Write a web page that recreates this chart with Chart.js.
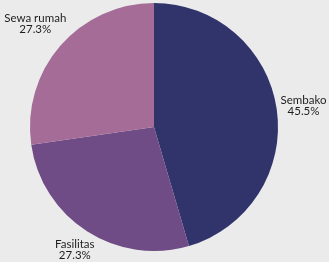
<!DOCTYPE html>
<html>
<head>
<meta charset="utf-8">
<script src="https://cdn.jsdelivr.net/npm/chart.js@4"></script>
<style>
html,body{margin:0;padding:0;background:#ebebeb;}
#wrap{width:329px;height:262px;position:relative;}
</style>
</head>
<body>
<div id="wrap"><canvas id="c" width="329" height="262"></canvas></div>
<script>
const categories = ["Sembako", "Fasilitas", "Sewa rumah"];
const values = [5, 3, 3];
const colors = ["#30346a", "#6f4c86", "#a46c96"];

const labelPlugin = {
  id: 'outLabels',
  afterDatasetsDraw(chart) {
    const ctx = chart.ctx;
    const meta = chart.getDatasetMeta(0);
    const total = values.reduce((a, b) => a + b, 0);
    const lineH = 11;
    const gap = 3;
    ctx.save();
    ctx.font = '11.5px Lato, "DejaVu Sans", sans-serif';
    ctx.fillStyle = '#1e1e1e';
    ctx.textAlign = 'center';
    ctx.textBaseline = 'middle';
    meta.data.forEach((arc, i) => {
      const mid = (arc.startAngle + arc.endAngle) / 2;
      const ux = Math.cos(mid), uy = Math.sin(mid);
      const pct = (values[i] / total * 100).toFixed(1) + '%';
      const hw = Math.max(ctx.measureText(categories[i]).width, ctx.measureText(pct).width) / 2;
      const hh = lineH;
      const target = arc.outerRadius + gap;
      let lo = 0, hi = arc.outerRadius * 3;
      for (let k = 0; k < 60; k++) {
        const d = (lo + hi) / 2;
        const cx = d * ux - hw * Math.sign(ux);
        const cy = d * uy - hh * Math.sign(uy);
        const nx = Math.sign(cx) === Math.sign(ux) || Math.abs(ux) < 1e-6 ? cx : 0;
        const ny = Math.sign(cy) === Math.sign(uy) || Math.abs(uy) < 1e-6 ? cy : 0;
        if (Math.hypot(nx, ny) < target) lo = d; else hi = d;
      }
      const x = arc.x + lo * ux;
      const y = arc.y + lo * uy;
      ctx.fillText(categories[i], x, y - lineH / 2);
      ctx.fillText(pct, x, y + lineH / 2);
    });
    ctx.restore();
  }
};

new Chart(document.getElementById('c'), {
  type: 'pie',
  data: {
    labels: categories,
    datasets: [{
      data: values,
      backgroundColor: colors,
      borderWidth: 0
    }]
  },
  options: {
    responsive: false,
    animation: false,
    layout: { padding: { top: 3, bottom: 11, left: 0, right: 21 } },
    plugins: { legend: { display: false }, tooltip: { enabled: false } }
  },
  plugins: [labelPlugin]
});
</script>
</body>
</html>
